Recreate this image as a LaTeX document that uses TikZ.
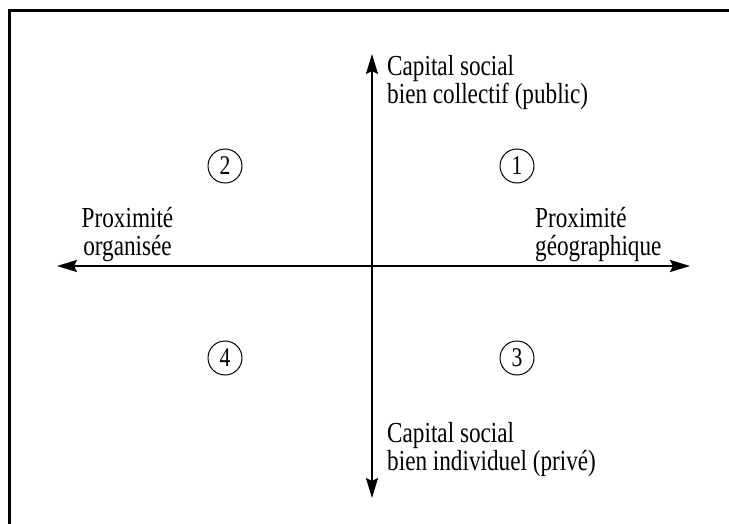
\documentclass[tikz,border=0pt]{standalone}
\usepackage{fontspec}
\setmainfont{Liberation Serif}[FakeStretch=0.8]
\usetikzlibrary{arrows.meta}
\begin{document}
\begin{tikzpicture}[x=1pt,y=-1pt,
  axis/.style={line width=2.2pt,-{Stealth[length=20pt,width=12pt,inset=3pt]}},
  lbl/.style={inner sep=0pt,font=\fontsize{29}{28}\selectfont},
  num/.style={circle,draw,line width=1pt,minimum size=34pt,inner sep=0pt,font=\fontsize{27}{28}\selectfont}]
\useasboundingbox (0,0) rectangle (729,524);
\draw[line width=3pt] (9.5,524) -- (9.5,10.5) -- (729,10.5);
\coordinate (O) at (372,266);
\coordinate (L) at (57,266);
\coordinate (R) at (690,266);
\coordinate (T) at (372,54);
\coordinate (B) at (372,498);
\draw[axis] (O) -- (R);
\draw[axis] (O) -- (L);
\draw[axis] (O) -- (T);
\draw[axis] (O) -- (B);
\node[lbl,anchor=north west,align=left] (top) at (387,55.2) {Capital social\\bien collectif (public)};
\node[lbl,anchor=north west,align=left] (bot) at (387,422.2) {Capital social\\bien individuel (privé)};
\node[lbl,anchor=north,align=center] (left) at (127.5,207.2) {Proximité\\organisée};
\node[lbl,anchor=north west,align=left] (right) at (535,207.2) {Proximité\\géographique};
\node[num] (n1) at (517,166) {1};
\node[num] (n2) at (225,166) {2};
\node[num] (n3) at (517,358) {3};
\node[num] (n4) at (225,358) {4};
\end{tikzpicture}
\end{document}
